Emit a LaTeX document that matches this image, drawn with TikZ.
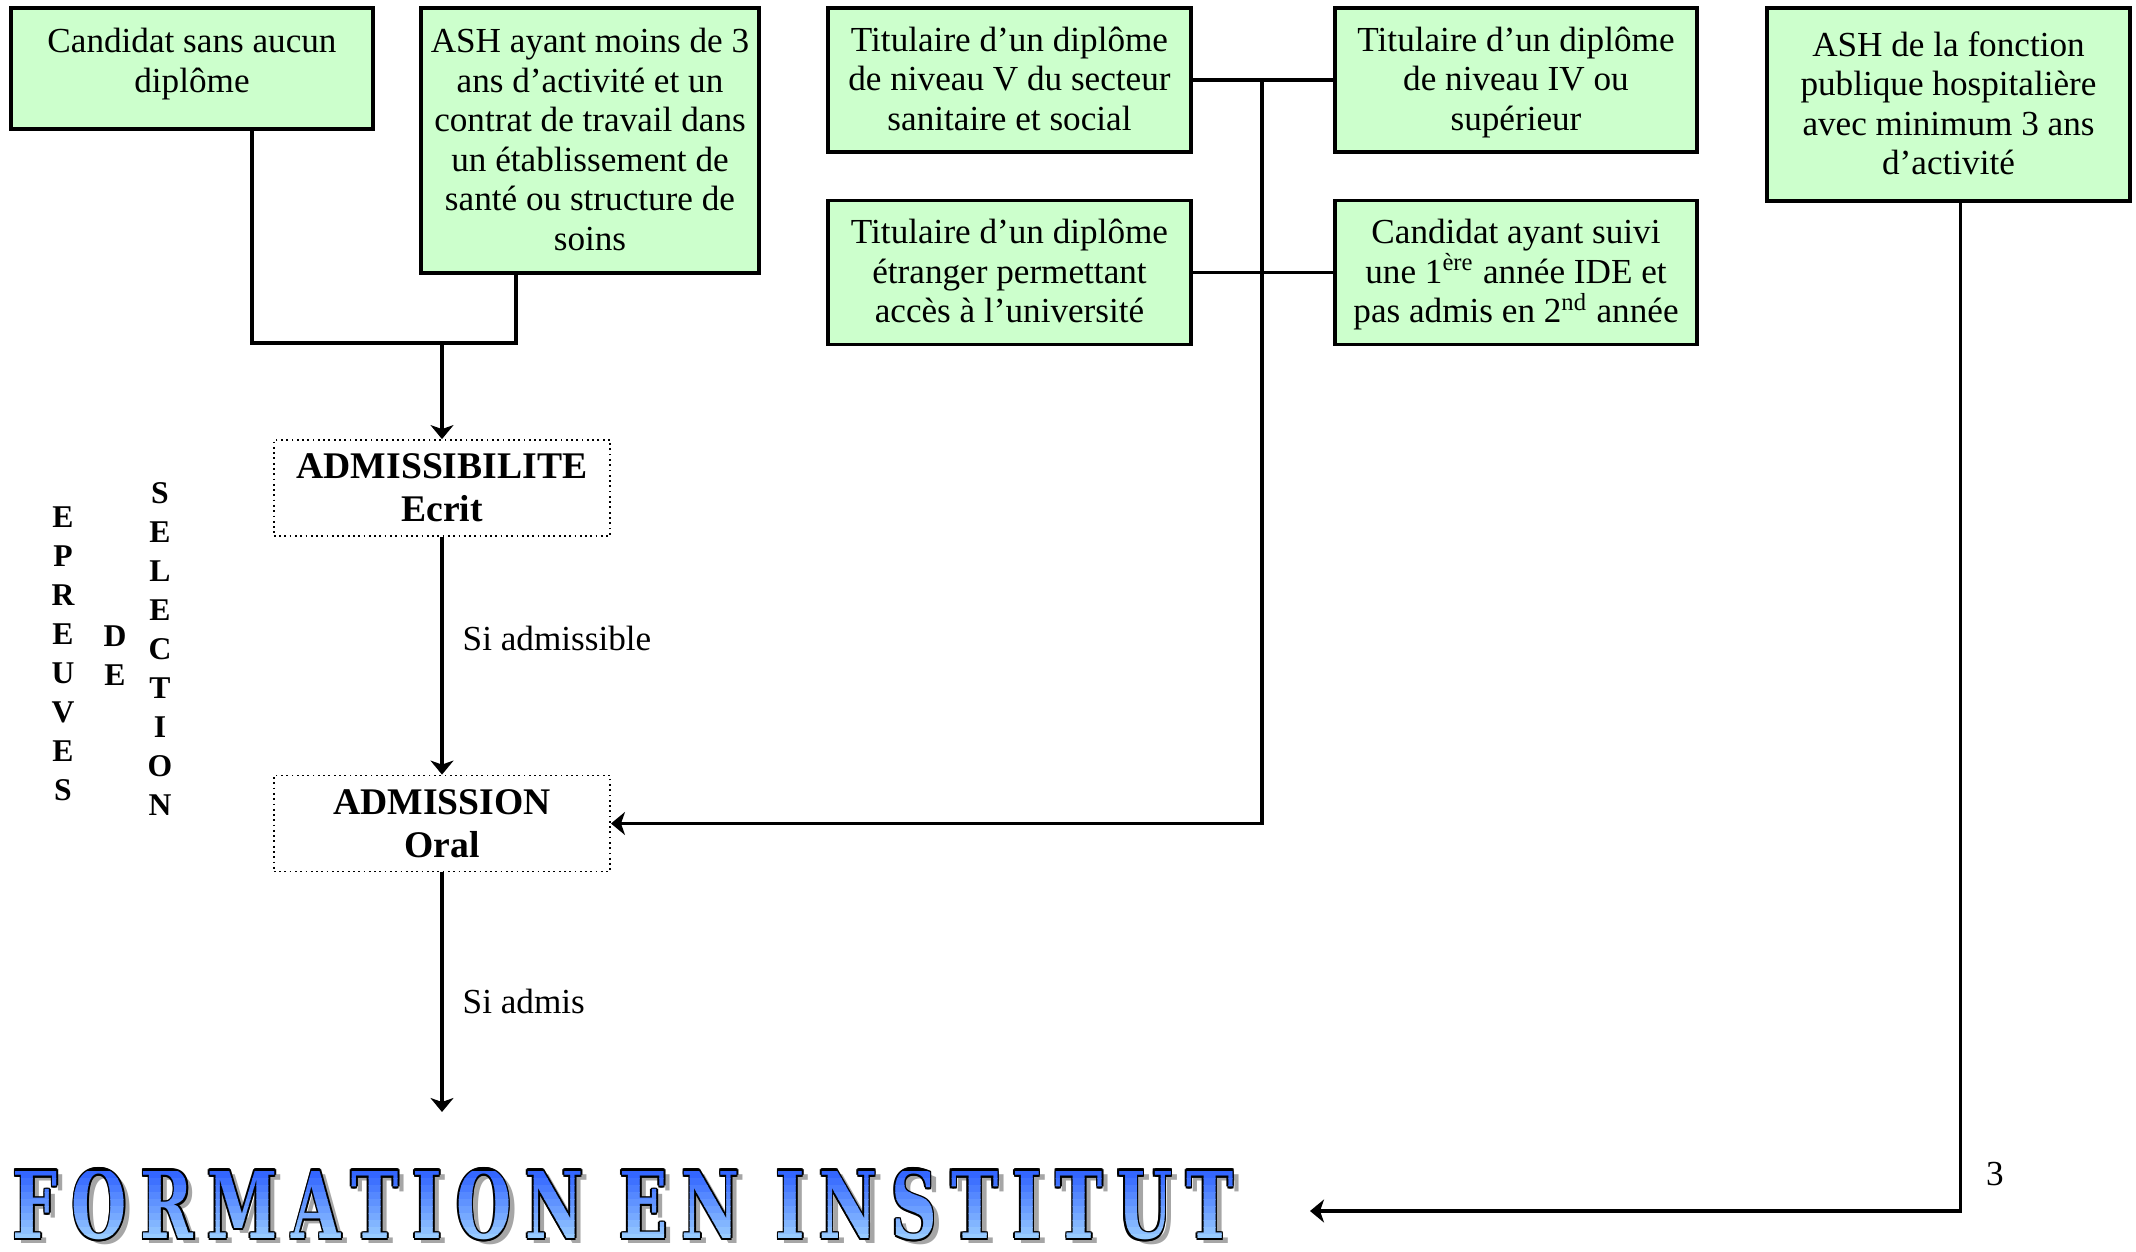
\documentclass[tikz,border=0pt]{standalone}
\usepackage{graphicx}
\usepackage{fontspec}
\setmainfont{Liberation Serif}
\newfontfamily\wordart{DejaVu Serif}[LetterSpace=22]
\usetikzlibrary{arrows.meta,calc}

\definecolor{boxgreen}{HTML}{CCFFCC}
\definecolor{wablue}{HTML}{3366FF}
\definecolor{walight}{HTML}{99CCFF}

\newcommand{\formbox}{\resizebox{12.2cm}{0.7cm}{\wordart\bfseries FORMATION EN INSTITUT}}
\newcommand{\tp}{\rule{0pt}{8.5pt}} % top strut of box text

\begin{document}
\begin{tikzpicture}[x=0.01cm,y=-0.01cm,
  condbox/.style={draw,line width=1.1pt,fill=boxgreen,align=center,inner sep=0pt,font=\fontsize{10}{11.25}\selectfont,
    execute at end node=\rule[-2.3pt]{0pt}{0pt}},
  stagebox/.style={draw,densely dotted,line width=0.5pt,align=center,inner sep=0pt,minimum width=3.36cm,minimum height=0.96cm,font=\fontsize{10.7}{12.2}\selectfont\bfseries},
  sidetxt/.style={align=center,inner sep=0pt,font=\fontsize{9}{11.1}\selectfont\bfseries},
  lbl/.style={inner sep=0pt,font=\fontsize{10}{12}\selectfont},
  conn/.style={line width=0.9pt},
  arr/.style={conn,-{Stealth[length=0.14cm,width=0.23cm,inset=0.04cm]}},
  wa/.style={anchor=south west,inner sep=0pt}]

\useasboundingbox (0,0) rectangle (2136,1252);

%definitions

\def\bw{3.62cm} % box width
\def\bh{1.44cm} % box height, three lines

%
%CONDITIONS
%

\node[condbox,minimum width=\bw,minimum height=1.21cm] (noDip) at (192,68.5) {\tp Candidat sans aucun\\diplôme\rule[-6.3pt]{0pt}{0pt}};
\node[condbox,minimum width=3.38cm,minimum height=2.65cm] (ashLow) at (590,140.5) {\tp ASH ayant moins de 3\\ans d’activité et un\\contrat de travail dans\\un établissement de\\santé ou structure de\\soins};
\node[condbox,minimum width=\bw,minimum height=\bh] (dipV) at (1009.5,80) {\tp Titulaire d’un diplôme\\de niveau V du secteur\\sanitaire et social};
\node[condbox,minimum width=\bw,minimum height=\bh] (dipIV) at (1516,80) {\tp Titulaire d’un diplôme\\de niveau IV ou\\supérieur};
\node[condbox,minimum width=\bw,minimum height=\bh] (dipEtr) at (1009.5,272.5) {\tp Titulaire d’un diplôme\\étranger permettant\\accès à l’université};
\node[condbox,minimum width=\bw,minimum height=\bh] (ide) at (1516,272.5) {\tp Candidat ayant suivi\\une 1\textsuperscript{ère} année IDE et\\pas admis en 2\textsuperscript{nd} année};
\node[condbox,minimum width=\bw,minimum height=1.93cm] (ashFph) at (1948.5,104.5) {\tp ASH de la fonction\\publique hospitalière\\avec minimum 3 ans\\d’activité};

%
%EPREUVES
%

\node[stagebox] (ecrit) at (442,488) {ADMISSIBILITE\\Ecrit};
\node[stagebox] (oral) at (442,823.5) {ADMISSION\\Oral};

\node[sidetxt] (epreuves) at (63,654) {E\\P\\R\\E\\U\\V\\E\\S};
\node[sidetxt] (de) at (115,656) {D\\E};
\node[sidetxt] (selection) at (160,649) {S\\E\\L\\E\\C\\T\\I\\O\\N};

\node[lbl,anchor=west] (siAdmissible) at (462,638) {Si admissible};
\node[lbl,anchor=west] (siAdmis) at (462,1001) {Si admis};
\node[lbl] (pageNo) at (1995,1174) {3};

%connectors

\coordinate (jLeft) at (442,343); % left junction
\coordinate (jRight) at (1262,80); % right junction
\coordinate (formTop) at (442,1112); % arrow end above title
\coordinate (formEnd) at (1310,1211); % arrow end right of title

\draw[conn] ([xshift=0.6cm]noDip.south) |- (jLeft);
\draw[conn] ([xshift=-0.74cm]ashLow.south) |- (jLeft);
\draw[arr] (jLeft) -- (ecrit.north);
\draw[arr] (ecrit) -- (oral);
\draw[arr] (oral) -- (formTop);

\draw[conn] (dipV) -- (dipIV);
\draw[conn] (dipEtr) -- (ide);
\draw[arr] (jRight) |- (oral.east);

\draw[arr] ([xshift=0.12cm]ashFph.south) |- (formEnd);

%
%TITLE
%

\coordinate (formSW) at (12,1241);

\node[wa,text=gray!70] (formShadow) at (18,1246) {\formbox}; % shadow
\foreach \a in {0,45,...,315} \node[wa,text=black] (formOut) at ($(formSW)+(\a:1.6)$) {\formbox}; % outline
\foreach \i in {0,...,9}{
  \pgfmathtruncatemacro\pct{100-11*\i}
  \begin{scope}
    \clip (0,1171+7*\i) rectangle (1300,1178.5+7*\i);
    \node[wa,text=wablue!\pct!walight] (formation) at (formSW) {\formbox}; % gradient band
  \end{scope}
}

\end{tikzpicture}
\end{document}
